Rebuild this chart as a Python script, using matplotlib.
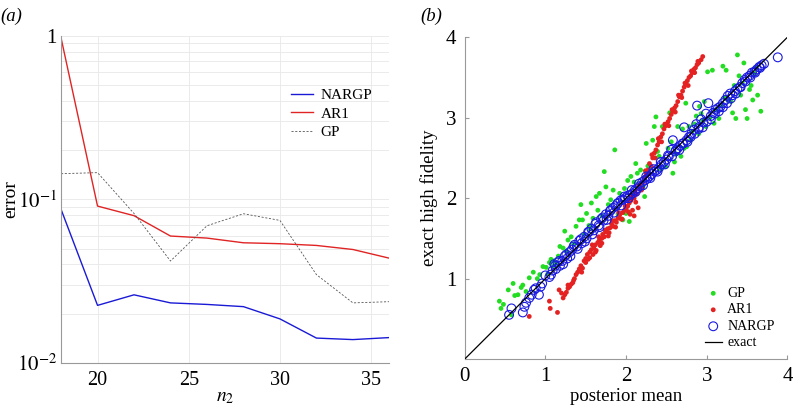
import numpy as np
import matplotlib
matplotlib.use("Agg")
import matplotlib.pyplot as plt
from matplotlib.ticker import LogLocator, FixedLocator, NullFormatter

plt.rcParams['font.family'] = ['Liberation Serif', 'DejaVu Serif']
plt.rcParams['mathtext.fontset'] = 'stix'

# (a) error vs n2
n2 = [18, 20, 22, 24, 26, 28, 30, 32, 34, 36]
err_nargp = [0.0869, 0.0225, 0.0261, 0.0233, 0.0228, 0.0221, 0.0186, 0.0142, 0.0139, 0.0143]
err_ar1 = [0.97, 0.091, 0.0795, 0.0597, 0.058, 0.0543, 0.0536, 0.0523, 0.0494, 0.0437]
err_gp = [0.1436, 0.1457, 0.082, 0.042, 0.069, 0.0817, 0.0744, 0.0347, 0.0233, 0.0237]

# (b) posterior mean vs exact high fidelity
gp_x = [0.43, 0.45, 0.54, 0.60, 0.62, 0.70, 0.72, 0.80, 0.85, 0.93, 0.97, 1.01, 1.07, 1.13,
        1.18, 1.22, 1.24, 1.28, 1.32, 1.38, 1.42, 1.44, 1.46, 1.51, 1.57, 1.59, 1.63, 1.67,
        1.73, 1.75, 1.81, 1.86, 1.92, 1.96, 2.00, 2.04, 2.06, 2.08, 2.12, 2.14, 2.21, 2.23,
        2.25, 2.29, 2.33, 2.35, 2.37, 2.41, 2.45, 2.49, 2.54, 2.58, 2.64, 2.68, 2.74, 2.75,
        2.78, 2.82, 2.87, 2.91, 2.95, 2.99, 3.01, 3.07, 3.09, 3.15, 3.20, 3.24, 3.26, 3.32,
        3.36, 3.38, 3.44, 3.46, 3.48, 3.50, 3.53, 3.59, 3.63, 3.67, 3.57,
        0.58, 1.05, 1.55, 2.60, 2.90, 3.30, 1.10, 1.90, 2.20,
        0.48, 0.66, 0.76, 0.90, 1.03, 1.10, 1.16, 1.26, 1.35, 1.48, 1.54, 1.65, 1.70, 1.78,
        1.84, 1.98, 2.02, 2.10, 2.18, 2.27, 2.39, 2.43, 2.52, 2.56, 2.62, 2.70, 2.72, 2.80,
        2.85, 2.93, 2.97, 3.04, 3.12, 3.18, 3.22, 3.34, 3.40, 3.42, 3.55, 3.61]
gp_y = [0.72, 0.63, 0.86, 0.94, 0.79, 0.89, 0.92, 1.01, 1.08, 1.05, 1.15, 1.14, 1.24, 1.19,
        1.40, 1.38, 1.59, 1.48, 1.52, 1.65, 1.73, 1.92, 1.73, 1.81, 1.94, 1.75, 2.02, 2.06,
        2.33, 2.14, 1.98, 2.60, 2.06, 1.73, 1.81, 1.71, 2.27, 2.04, 2.43, 2.31, 2.14, 2.02,
        2.68, 2.37, 2.72, 2.89, 3.01, 2.52, 2.89, 2.39, 3.06, 2.31, 2.89, 2.52, 3.18, 2.64,
        2.89, 2.83, 3.02, 3.14, 2.97, 2.89, 3.57, 3.59, 2.93, 2.99, 3.64, 3.59, 3.22, 3.06,
        2.99, 3.78, 3.43, 3.68, 3.10, 2.99, 3.35, 3.55, 3.28, 3.08, 3.22,
        0.55, 1.20, 1.62, 2.45, 2.80, 3.20, 1.22, 1.80, 2.12,
        0.68, 0.80, 0.84, 1.00, 1.06, 1.16, 1.28, 1.34, 1.43, 1.55, 1.66, 1.85, 1.78, 1.92,
        2.10, 2.12, 2.22, 2.20, 2.35, 2.40, 2.58, 2.36, 2.62, 2.70, 2.55, 2.86, 2.62, 2.72,
        2.92, 3.05, 3.20, 3.00, 3.10, 3.15, 3.25, 3.40, 3.52, 3.28, 3.40, 3.62]

ar1_x = [0.80, 1.05, 1.06, 1.15, 1.17, 1.22, 1.24, 1.26, 1.28, 1.30, 1.32, 1.34, 1.36, 1.38,
         1.40, 1.42, 1.44, 1.46, 1.48, 1.50, 1.52, 1.53, 1.55, 1.57, 1.59, 1.60, 1.62, 1.63,
         1.65, 1.67, 1.68, 1.70, 1.71, 1.73, 1.75, 1.77, 1.79, 1.80, 1.82, 1.84, 1.86, 1.88,
         1.90, 1.92, 1.94, 1.96, 1.98, 2.00, 2.02, 2.04, 2.06, 2.08, 2.10, 2.11, 2.13, 2.15,
         2.17, 2.19, 2.21, 2.23, 2.25, 2.27, 2.29, 2.31, 2.33, 2.35, 2.37, 2.39, 2.41, 2.43,
         2.45, 2.47, 2.49, 2.52, 2.54, 2.56, 2.58, 2.60, 2.62, 2.64, 2.66, 2.68, 2.70, 2.72,
         2.74, 2.76, 2.78, 2.80, 2.82, 2.84, 2.86, 2.88, 2.90, 2.93, 2.95,
         1.45, 1.50, 1.55, 1.58, 1.62, 1.66, 1.70, 1.74, 1.78, 1.83, 1.87, 1.91, 1.95, 1.99,
         2.03, 2.07, 2.12, 2.16, 2.20, 2.24, 2.28, 2.32, 2.36, 2.40, 2.44, 2.48, 2.53, 2.57,
         2.61, 2.65, 2.69, 2.73, 2.77, 2.81, 2.85, 2.89, 2.05, 2.10, 2.15, 1.35, 1.28, 1.20]
ar1_y = [0.53, 0.72, 0.63, 0.58, 0.86, 0.76, 0.80, 0.83, 0.88, 0.90, 0.93, 0.95, 1.00, 1.05,
         1.08, 1.12, 1.16, 1.13, 1.22, 1.25, 1.30, 1.24, 1.33, 1.36, 1.30, 1.38, 1.42, 1.35,
         1.45, 1.48, 1.41, 1.50, 1.55, 1.52, 1.58, 1.62, 1.57, 1.63, 1.68, 1.65, 1.72, 1.70,
         1.75, 1.79, 1.74, 1.82, 1.85, 1.86, 1.90, 1.94, 1.97, 1.85, 2.00, 2.08, 2.05, 2.12,
         2.16, 2.10, 2.20, 2.26, 2.30, 2.35, 2.43, 2.40, 2.50, 2.56, 2.60, 2.66, 2.70, 2.76,
         2.80, 2.86, 2.90, 2.95, 2.99, 3.04, 3.08, 3.12, 3.15, 3.20, 3.26, 3.28, 3.33, 3.38,
         3.42, 3.46, 3.50, 3.52, 3.56, 3.60, 3.62, 3.66, 3.68, 3.72, 3.76,
         1.08, 1.20, 1.26, 1.42, 1.33, 1.52, 1.44, 1.60, 1.53, 1.72, 1.64, 1.82, 1.74, 1.90,
         1.83, 2.02, 1.95, 2.16, 2.12, 2.34, 2.30, 2.54, 2.50, 2.74, 2.70, 2.92, 2.90, 3.10,
         3.07, 3.28, 3.25, 3.43, 3.40, 3.58, 3.56, 3.70, 1.80, 1.78, 1.88, 0.98, 0.92, 0.82]

nargp_x = [0.55, 0.58, 0.72, 0.74, 0.76, 0.80, 0.83, 0.86, 0.88, 0.92, 0.94, 0.96, 1.07, 1.09,
           1.11, 1.13, 1.15, 1.18, 1.21, 1.24, 1.27, 1.30, 1.33, 1.36, 1.39, 1.42, 1.45, 1.48,
           1.51, 1.54, 1.57, 1.60, 1.63, 1.66, 1.69, 1.72, 1.75, 1.78, 1.81, 1.84, 1.87, 1.90,
           1.93, 1.96, 1.99, 2.02, 2.05, 2.08, 2.11, 2.14, 2.17, 2.20, 2.23, 2.26, 2.29, 2.32,
           2.35, 2.38, 2.41, 2.44, 2.47, 2.50, 2.53, 2.56, 2.58, 2.61, 2.64, 2.67, 2.70, 2.72,
           2.75, 2.78, 2.81, 2.84, 2.87, 2.88, 2.90, 2.93, 2.96, 2.99, 3.02, 3.05, 3.08, 3.11,
           3.14, 3.17, 3.20, 3.23, 3.26, 3.29, 3.32, 3.35, 3.38, 3.41, 3.44, 3.47, 3.50, 3.53,
           3.56, 3.59, 3.62, 3.65, 3.68, 3.71, 3.88,
           1.00, 1.05, 1.12, 1.17, 1.22, 1.26, 1.31, 1.35, 1.40, 1.44, 1.49, 1.53, 1.58, 1.62,
           1.67, 1.71, 1.76, 1.80, 1.85, 1.89, 1.94, 1.98, 2.03, 2.07, 2.12, 2.16, 2.21, 2.25,
           2.30, 2.34, 2.39, 2.43, 2.48, 2.52, 2.57, 2.62, 2.66, 2.71, 2.76, 2.80, 2.85, 2.90,
           2.95, 3.00, 3.05, 3.10, 3.15, 3.20, 3.25, 3.30, 3.36, 3.42, 3.48, 3.54, 3.60, 3.66]
nargp_y = [0.55, 0.63, 0.58, 0.65, 0.70, 0.76, 0.80, 0.86, 0.88, 0.80, 0.90, 0.94, 1.05, 1.10,
           1.18, 1.12, 1.20, 1.16, 1.22, 1.28, 1.25, 1.33, 1.36, 1.42, 1.40, 1.47, 1.44, 1.52,
           1.50, 1.58, 1.62, 1.60, 1.70, 1.66, 1.74, 1.72, 1.80, 1.78, 1.85, 1.88, 1.90, 1.94,
           1.97, 1.98, 2.00, 2.03, 2.04, 2.06, 2.10, 2.12, 2.15, 2.20, 2.22, 2.24, 2.27, 2.30,
           2.33, 2.35, 2.38, 2.42, 2.45, 2.48, 2.52, 2.60, 2.72, 2.58, 2.62, 2.65, 2.68, 2.88,
           2.72, 2.76, 2.80, 2.85, 2.92, 3.15, 2.88, 2.98, 2.94, 3.05, 3.18, 3.02, 3.06, 3.10,
           3.12, 3.14, 3.18, 3.22, 3.27, 3.30, 3.28, 3.33, 3.36, 3.38, 3.43, 3.47, 3.50, 3.52,
           3.56, 3.57, 3.60, 3.63, 3.65, 3.67, 3.75,
           1.04, 1.02, 1.16, 1.22, 1.18, 1.30, 1.28, 1.40, 1.37, 1.49, 1.46, 1.58, 1.55, 1.68,
           1.64, 1.76, 1.73, 1.84, 1.82, 1.93, 1.91, 2.02, 2.00, 2.10, 2.08, 2.18, 2.16, 2.27,
           2.25, 2.36, 2.33, 2.45, 2.42, 2.53, 2.52, 2.60, 2.60, 2.68, 2.70, 2.76, 2.80, 2.86,
           2.88, 2.95, 2.98, 3.05, 3.08, 3.13, 3.18, 3.24, 3.30, 3.38, 3.45, 3.50, 3.56, 3.62]

fig = plt.figure(figsize=(7.93, 4.09), dpi=100)

# ---- (a)
ax1 = fig.add_axes([0.077, 0.1125, 0.414, 0.80])
ax1.plot(n2, err_nargp, color='#1a1ad6', lw=1.0, label='NARGP')
ax1.plot(n2, err_ar1, color='#e02424', lw=1.0, label='AR1')
ax1.plot(n2, err_gp, color='#555555', lw=0.6, ls=(0, (2.5, 2)), label='GP')
ax1.set_yscale('log')
ax1.set_xlim(18, 36)
ax1.set_ylim(0.01, 1)
ax1.set_xticks([20, 25, 30, 35])
ax1.yaxis.set_major_locator(FixedLocator([0.01, 0.1, 1]))
ax1.set_yticklabels([r'$10^{-2}$', r'$10^{-1}$', '1'])
ax1.yaxis.set_minor_locator(LogLocator(base=10, subs=np.arange(2, 10)))
ax1.yaxis.set_minor_formatter(NullFormatter())
ax1.grid(True, which='both', axis='y', color='#e8e8e8', lw=0.6)
ax1.grid(True, which='major', axis='x', color='#e8e8e8', lw=0.6)
ax1.tick_params(which='both', length=0)
ax1.tick_params(axis='x', labelsize=14.5, pad=6)
ax1.tick_params(axis='y', labelsize=15, pad=3)
for s in ['top', 'right']:
    ax1.spines[s].set_visible(False)
for s in ['left', 'bottom']:
    ax1.spines[s].set_color('#999999')
    ax1.spines[s].set_linewidth(0.8)
ax1.set_xlabel(r'$n_2$', fontsize=14, labelpad=-1)
ax1.set_ylabel('error', fontsize=14, labelpad=-2)
ax1.legend(loc='upper left', bbox_to_anchor=(0.66, 0.88), frameon=False, fontsize=11,
           handlelength=1.4, handletextpad=0.5, labelspacing=0.3)
fig.text(0.0, 0.95, '(a)', fontsize=13.5, style='italic')

# ---- (b)
ax2 = fig.add_axes([0.586, 0.122, 0.407, 0.787])
ax2.scatter(gp_x, gp_y, s=12, color='#22dd22', edgecolors='none', label='GP', zorder=2)
ax2.scatter(ar1_x, ar1_y, s=12, color='#e52222', edgecolors='none', label='AR1', zorder=3)
ax2.scatter(nargp_x, nargp_y, s=40, facecolors='none', edgecolors='#1a1ae0', linewidths=0.8,
            label='NARGP', zorder=4)
ax2.plot([0, 4], [0, 4], color='black', lw=0.9, label='exact', zorder=5)
ax2.set_xlim(0, 4)
ax2.set_ylim(0, 4)
ax2.set_xticks([0, 1, 2, 3, 4])
ax2.set_yticks([1, 2, 3, 4])
ax2.tick_params(direction='in', length=3, color='#999999', labelsize=15, pad=6)
for s in ['top', 'right']:
    ax2.spines[s].set_visible(False)
for s in ['left', 'bottom']:
    ax2.spines[s].set_color('#999999')
    ax2.spines[s].set_linewidth(0.8)
ax2.set_xlabel('posterior mean', fontsize=13.5, labelpad=1)
ax2.set_ylabel('exact high fidelity', fontsize=13.5, labelpad=6)
ax2.legend(loc='lower right', bbox_to_anchor=(0.99, 0.0), frameon=False, fontsize=10,
           handlelength=1.2, handletextpad=0.4, labelspacing=0.25, borderaxespad=0.3)
fig.text(0.53, 0.95, '(b)', fontsize=13.5, style='italic')

plt.savefig('out.png', dpi=100)
